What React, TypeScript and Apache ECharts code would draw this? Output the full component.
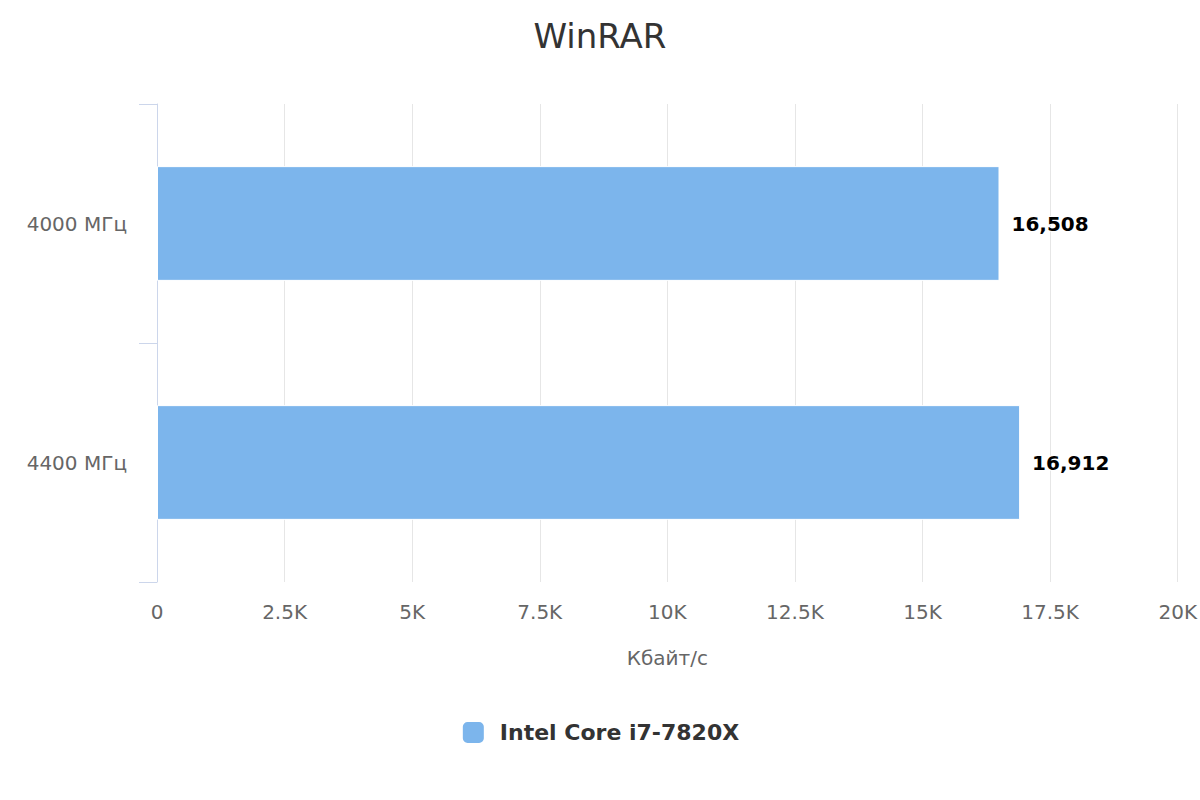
import React, { useEffect, useRef } from "react";
import * as echarts from "echarts";

const categories = ["4000 МГц", "4400 МГц"];
const seriesName = "Intel Core i7-7820X";
const values = [16508, 16912];
const axisMin = 0;
const axisMax = 20000;
const axisStep = 2500;

const FONT = "'DejaVu Sans', Verdana, sans-serif";

export default function App() {
  const ref = useRef<HTMLDivElement>(null);
  useEffect(() => {
    document.body.style.margin = "0";
    if (!ref.current) return;
    const chart = echarts.init(ref.current, undefined, { renderer: "svg" });
    chart.setOption({
      animation: false,
      backgroundColor: "#ffffff",
      textStyle: { fontFamily: FONT },
      title: {
        text: "WinRAR",
        left: "center",
        top: 14,
        textStyle: { fontFamily: FONT, fontSize: 34, fontWeight: "normal", color: "#333333" },
      },
      legend: {
        bottom: 50,
        left: "center",
        icon: "roundRect",
        itemWidth: 23,
        itemHeight: 23,
        itemGap: 20,
        textStyle: {
          fontFamily: FONT,
          fontSize: 22,
          fontWeight: "bold",
          color: "#333333",
          padding: [0, 0, 0, 10],
        },
        data: [seriesName],
      },
      grid: { left: 157, right: 22, top: 104, bottom: 218, containLabel: false },
      xAxis: {
        type: "value",
        min: axisMin,
        max: axisMax,
        interval: axisStep,
        name: "Кбайт/с",
        nameLocation: "middle",
        nameGap: 66,
        nameTextStyle: { fontFamily: FONT, fontSize: 20, color: "#666666" },
        axisLine: { show: false },
        axisTick: { show: false },
        axisLabel: {
          margin: 20,
          fontFamily: FONT,
          fontSize: 20,
          color: "#666666",
          formatter: (v: number) => (v === 0 ? "0" : `${v / 1000}K`),
        },
        splitLine: { show: true, lineStyle: { color: "#e6e6e6", width: 1 } },
      },
      yAxis: {
        type: "category",
        inverse: true,
        data: categories,
        axisLine: { show: true, lineStyle: { color: "#ccd6eb", width: 1 } },
        axisTick: { show: true, length: 18, lineStyle: { color: "#ccd6eb", width: 1 } },
        axisLabel: { margin: 30, fontFamily: FONT, fontSize: 20, color: "#666666" },
        splitLine: { show: false },
      },
      series: [
        {
          name: seriesName,
          type: "bar",
          data: values,
          barWidth: "48%",
          itemStyle: { color: "#7cb5ec", borderColor: "#ffffff", borderWidth: 1 },
          label: {
            show: true,
            position: "right",
            distance: 12,
            fontFamily: FONT,
            fontSize: 20,
            fontWeight: "bold",
            color: "#000000",
            textBorderColor: "#ffffff",
            textBorderWidth: 2,
            formatter: (p: any) => p.value.toLocaleString("en-US"),
          },
        },
      ],
    });
    return () => chart.dispose();
  }, []);
  return <div ref={ref} style={{ width: 1200, height: 800 }} />;
}
